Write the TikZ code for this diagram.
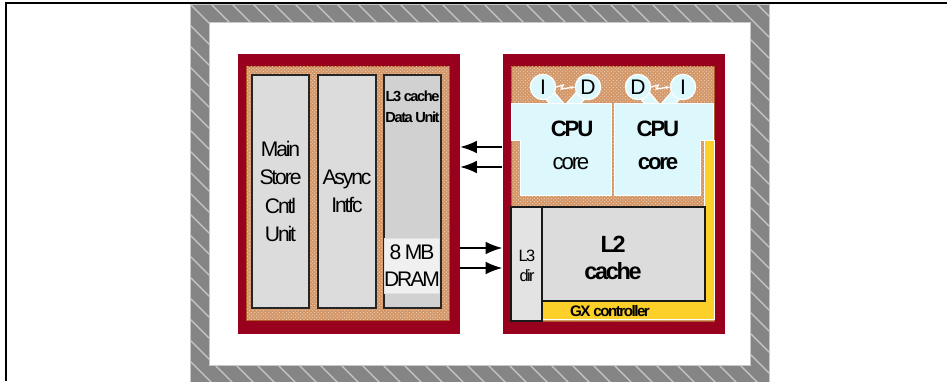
\documentclass[tikz,border=0pt]{standalone}
\usepackage{fontspec}
\setmainfont[LetterSpace=-10]{Liberation Sans}
\usetikzlibrary{arrows.meta,patterns}

\definecolor{chipRed}{RGB}{152,0,30}
\definecolor{speckTan}{RGB}{210,150,104}
\definecolor{speckDot}{RGB}{242,214,186}
\definecolor{speckEdge}{RGB}{176,92,40}
\definecolor{cpuCyan}{RGB}{220,248,252}
\definecolor{gxYellow}{RGB}{252,208,40}
\definecolor{boxGray}{RGB}{220,220,220}
\definecolor{hatchGray}{RGB}{133,133,133}
\definecolor{hatchLine}{RGB}{200,200,200}

\begin{document}
\begin{tikzpicture}[x=0.3mm,y=-0.3mm]
\tikzstyle{chip}=[rectangle,fill=chipRed,minimum width=66.6mm,minimum height=84mm,inner sep=0pt]
\tikzstyle{speckle}=[fill=speckTan,draw=speckEdge,line width=0.6pt]
\tikzstyle{column}=[rectangle,draw=black!85,line width=1.2pt,fill=boxGray,minimum height=69.9mm,inner sep=0pt,align=center,font=\fontsize{18}{24}\selectfont]
\tikzstyle{cpu}=[fill=cpuCyan,draw=white,line width=0.8pt]
\tikzstyle{cache}=[rectangle,draw=black!90,line width=1.2pt,fill=boxGray,inner sep=0pt]
\tikzstyle{label}=[inner sep=0pt,align=center]
\tikzstyle{bubble}=[circle,fill=cpuCyan,draw=white,line width=1pt,minimum size=7.6mm,inner sep=0pt,font=\fontsize{18}{18}\selectfont]
\tikzstyle{bus}=[line width=1.4pt,-{Latex[length=5mm,width=3.8mm]}]
\tikzstyle{bolt}=[white,line width=1.1pt,-{Stealth[length=1.3mm]}]

\useasboundingbox (0,0) rectangle (947,381);

%frame
\draw[line width=1.1pt] (947,3) -- (6,3) -- (6,381);
\fill[hatchGray] (190,4) rectangle (769,390);
\begin{scope}
  \clip (190,4) rectangle (769,390);
  \foreach \i in {-20,...,30}
    \draw[hatchLine,line width=1pt] (190+\i*21,4) -- ++(400,400);
\end{scope}
\draw[hatchLine,line width=0.8pt] (190,4) rectangle (769,390);
\fill[white] (209,22) rectangle (750,365);
\draw[hatchLine,line width=0.8pt] (209,22) rectangle (750,365);

%left chip
\node[chip] (leftChip) at (349,194) {};
\draw[speckle] (246,66) rectangle (449,320);
\fill[pattern=crosshatch dots,pattern color=speckDot] (246.5,66.5) rectangle (448.5,319.5);

\node[column,minimum width=17.1mm] (mainStore) at (280.5,191.5) {Main\\Store\\Cntl\\Unit};
\node[column,minimum width=17.4mm] (asyncIntfc) at (347,191.5) {Async\\Intfc};
\node[column,minimum width=17.1mm,fill=boxGray!95!black] (l3Data) at (412.5,191.5) {};
\node[label,font=\bfseries\fontsize{12.5}{18}\selectfont] (l3DataText) at (412.5,107) {L3 cache\\Data Unit};
\node[rectangle,fill=black!6,draw=black!12,line width=0.8pt,minimum width=15mm,minimum height=16.5mm,inner sep=0pt,align=center,font=\fontsize{18}{23}\selectfont] (dram) at (412,265.5) {8 MB\\DRAM};

%right chip
\node[chip] (rightChip) at (613.5,194) {};
\draw[speckle] (511,66) rectangle (714,321);
\fill[pattern=crosshatch dots,pattern color=speckDot] (511.5,66.5) rectangle (713.5,320.5);

\fill[gxYellow,draw=white,line width=0.6pt] (704,140) -- (714,140) -- (714,319) -- (540,319) -- (540,301) -- (704,301) -- cycle;

% I/D bubbles
\coordinate (iApos) at (543,87);
\coordinate (dApos) at (588,87);
\coordinate (dBpos) at (638,87);
\coordinate (iBpos) at (683,87);
\coordinate (tipA) at (562,110);
\coordinate (tipA2) at (568,110);
\coordinate (tipB) at (657,110);
\coordinate (tipB2) at (663,110);
\foreach \a/\b in {iApos/tipA,dApos/tipA2,dBpos/tipB,iBpos/tipB2}{
  \draw[white,line width=3.6mm] (\a) -- (\b);
  \draw[cpuCyan,line width=2.8mm] (\a) -- (\b);
}

\draw[cpu] (511,103) -- (611,103) -- (611,195) -- (520,195) -- (520,140) -- (511,140) -- cycle;
\draw[cpu] (614,103) -- (713,103) -- (713,140) -- (700,140) -- (700,195) -- (614,195) -- cycle;

\node[bubble] (iA) at (iApos) {I};
\node[bubble] (dA) at (dApos) {D};
\node[bubble] (dB) at (dBpos) {D};
\node[bubble] (iB) at (iBpos) {I};
\draw[bolt] (iA.east) -- ++(7,-2) -- ++(-2,4) -- (dA.west);
\draw[bolt] (dB.east) -- ++(7,-2) -- ++(-2,4) -- (iB.west);

\node[label,font=\fontsize{19}{28}\selectfont] (cpuA) at (571,145) {\textbf{CPU}\\core};
\node[label,font=\bfseries\fontsize{19}{28}\selectfont] (cpuB) at (658,145) {CPU\\core};

\node[cache,minimum width=48.9mm,minimum height=28.2mm] (l2) at (623.5,254) {};
\node[label,font=\bfseries\fontsize{20}{23}\selectfont] (l2Text) at (613,258) {L2\\cache};
\node[cache,fill=black!11,minimum width=9.3mm,minimum height=34.2mm] (l3Dir) at (526.5,264) {};
\node[label,font=\fontsize{14}{17}\selectfont] (l3DirText) at (527,266) {L3\\dir};
\node[label,font=\bfseries\fontsize{13}{15}\selectfont] (gx) at (610,311) {GX controller};

%buses
\coordinate (busA) at (0,147);
\coordinate (busB) at (0,167);
\coordinate (busC) at (0,248);
\coordinate (busD) at (0,268);
\draw[bus] (rightChip.west |- busA) -- (leftChip.east |- busA);
\draw[bus] (rightChip.west |- busB) -- (leftChip.east |- busB);
\draw[bus] (leftChip.east |- busC) -- (rightChip.west |- busC);
\draw[bus] (leftChip.east |- busD) -- (rightChip.west |- busD);

\end{tikzpicture}
\end{document}
